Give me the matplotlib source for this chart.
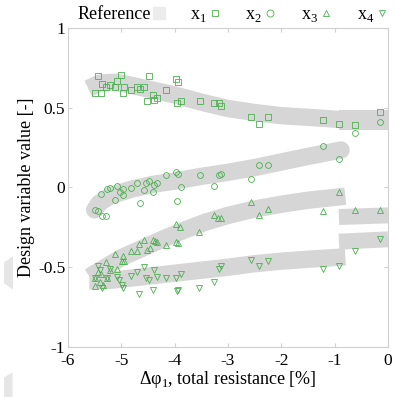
import numpy as np
import matplotlib
matplotlib.use('Agg')
import matplotlib.pyplot as plt
from matplotlib.lines import Line2D

plt.rcParams['font.family'] = ['Liberation Serif', 'DejaVu Serif']
plt.rcParams['mathtext.fontset'] = 'custom'
plt.rcParams['mathtext.rm'] = 'Liberation Serif'

# Reference bands (centre lines)
band1_x = [-5.62, -5.4, -5.1, -4.8, -4.4, -4.0, -3.5, -3.0, -2.5, -2.0, -1.5, -0.85]
band1_y = [0.62, 0.655, 0.66, 0.64, 0.61, 0.58, 0.535, 0.495, 0.47, 0.45, 0.44, 0.425]
band1b_x = [-0.92, 0.0]
band1b_y = [0.42, 0.42]

band2_x = [-5.5, -5.42, -5.2, -4.8, -4.4, -4.0, -3.5, -3.0, -2.5, -2.0, -1.5, -0.88]
band2_y = [-0.14, -0.1, -0.05, -0.01, 0.02, 0.04, 0.07, 0.095, 0.125, 0.16, 0.195, 0.235]

band3_x = [-5.6, -5.3, -5.0, -4.6, -4.2, -3.8, -3.4, -3.0, -2.5, -2.0, -1.5, -0.8]
band3_y = [-0.56, -0.5, -0.44, -0.38, -0.32, -0.265, -0.215, -0.175, -0.135, -0.105, -0.08, -0.055]
band3b_x = [-0.92, 0.0]
band3b_y = [-0.185, -0.175]

band4_x = [-5.6, -5.3, -5.0, -4.6, -4.2, -3.8, -3.4, -3.0, -2.5, -2.0, -1.5, -0.8]
band4_y = [-0.585, -0.585, -0.575, -0.56, -0.545, -0.53, -0.515, -0.5, -0.478, -0.462, -0.45, -0.435]
band4b_x = [-0.92, 0.0]
band4b_y = [-0.34, -0.325]

# faint leftovers outside the axes
ghost1_x = [-7.2, -7.03, -7.03, -7.2]
ghost1_y = [-0.47, -0.43, -0.64, -0.6]
ghost2_x = [-7.2, -7.04, -7.04, -7.2]
ghost2_y = [-1.19, -1.16, -1.32, -1.32]

# Design points
x1_x = [-5.43, -5.37, -5.49, -5.39, -5.29, -5.21, -5.12, -5.09, -5.01, -4.95, -4.96, -4.82, -4.71,
        -4.65, -4.58, -4.48, -4.52, -4.41, -4.38, -4.34, -4.16, -3.98, -3.93, -3.96, -3.89, -3.52,
        -3.26, -3.17, -3.13, -2.56, -2.42, -2.25, -1.22, -0.92, -0.61, -0.15]
x1_y = [0.70, 0.65, 0.59, 0.59, 0.63, 0.64, 0.63, 0.67, 0.705, 0.63, 0.59, 0.61, 0.63,
        0.62, 0.63, 0.70, 0.54, 0.58, 0.55, 0.56, 0.61, 0.68, 0.66, 0.53, 0.54, 0.54,
        0.53, 0.53, 0.51, 0.44, 0.40, 0.44, 0.42, 0.40, 0.39, 0.475]

x2_x = [-3.98, -3.93, -4.16, -4.48, -4.54, -4.38, -4.34, -4.41, -4.71, -4.82, -4.58, -4.65, -4.96,
        -5.03, -4.96, -5.09, -5.21, -5.27, -5.39, -5.12, -5.49, -5.43, -5.37, -5.29, -3.96, -3.89,
        -3.52, -3.26, -3.17, -3.13, -2.42, -2.25, -2.56, -1.22, -0.92, -0.61, -0.15]
x2_y = [0.10, 0.083, 0.08, 0.043, 0.03, 0.016, 0.026, -0.03, 0.026, -0.005, -0.015, -0.095, -0.01,
        -0.03, -0.05, 0.01, -0.005, -0.01, -0.04, -0.08, -0.14, -0.15, -0.18, -0.18, -0.085, 0.005,
        0.076, 0.01, 0.078, 0.085, 0.14, 0.143, 0.055, 0.26, 0.18, 0.34, 0.41]

x3_x = [-3.26, -3.18, -3.13, -3.98, -3.90, -3.54, -4.41, -4.37, -4.33, -4.58, -4.66, -4.46, -4.52,
        -4.16, -3.98, -3.93, -4.71, -4.82, -5.12, -4.97, -4.99, -4.95, -5.29, -5.09, -5.21, -5.43,
        -5.38, -5.49, -5.40, -5.27, -5.49, -5.34, -2.56, -2.42, -2.25, -1.22, -0.92, -0.61, -0.15]
x3_y = [-0.17, -0.19, -0.19, -0.23, -0.245, -0.28, -0.33, -0.335, -0.34, -0.33, -0.355, -0.38, -0.39,
        -0.36, -0.34, -0.35, -0.40, -0.40, -0.42, -0.43, -0.46, -0.46, -0.47, -0.51, -0.52, -0.53,
        -0.54, -0.57, -0.59, -0.57, -0.615, -0.61, -0.09, -0.17, -0.135, -0.15, -0.026, -0.14, -0.14]

x4_x = [-3.13, -3.17, -3.26, -3.89, -3.98, -3.54, -3.93, -3.96, -4.16, -4.39, -4.34, -4.41, -4.58,
        -4.71, -4.54, -4.49, -4.82, -4.66, -5.09, -5.04, -4.99, -4.96, -5.21, -5.27, -5.43, -5.40,
        -5.49, -5.37, -2.56, -2.42, -2.25, -1.22, -0.92, -0.61, -0.15]
x4_y = [-0.49, -0.51, -0.59, -0.54, -0.57, -0.63, -0.64, -0.65, -0.57, -0.52, -0.56, -0.64, -0.50,
        -0.53, -0.57, -0.58, -0.555, -0.67, -0.56, -0.58, -0.61, -0.63, -0.51, -0.57, -0.49, -0.52,
        -0.57, -0.63, -0.455, -0.495, -0.46, -0.51, -0.49, -0.40, -0.32]

band_col = '#d6d6d6'
green = '#4caf50'

fig = plt.figure(figsize=(3.94, 3.97), dpi=100)
ax = fig.add_axes([0.1726, 0.126, 0.8122, 0.8035])

lw = 12.5
ax.plot(band1_x, band1_y, color=band_col, lw=lw, solid_capstyle='butt', solid_joinstyle='round', zorder=1)
ax.plot(band1b_x, band1b_y, color=band_col, lw=lw + 2, solid_capstyle='butt', zorder=1)
ax.plot(band2_x, band2_y, color=band_col, lw=lw, solid_capstyle='round', solid_joinstyle='round', zorder=1)
ax.plot(band3_x, band3_y, color=band_col, lw=lw, solid_capstyle='butt', solid_joinstyle='round', zorder=1)
ax.plot(band3b_x, band3b_y, color=band_col, lw=lw - 1, solid_capstyle='butt', zorder=1)
ax.plot(band4_x, band4_y, color=band_col, lw=lw, solid_capstyle='butt', solid_joinstyle='round', zorder=1)
ax.plot(band4b_x, band4b_y, color=band_col, lw=lw - 1, solid_capstyle='butt', zorder=1)
ax.fill(ghost1_x, ghost1_y, color='#e6e6e6', lw=0, clip_on=False)
ax.fill(ghost2_x, ghost2_y, color='#e6e6e6', lw=0, clip_on=False)

mk = dict(ls='none', mfc='none', mec=green, ms=4.2, mew=0.6, zorder=3)
ax.plot(x1_x, x1_y, marker='s', **mk)
ax.plot(x2_x, x2_y, marker='o', **mk)
ax.plot(x3_x, x3_y, marker='^', **mk)
ax.plot(x4_x, x4_y, marker='v', **mk)

ax.set_xlim(-6, 0)
ax.set_ylim(-1, 1)
ax.set_xticks([-6, -5, -4, -3, -2, -1, 0])
ax.set_xticklabels(['-6', '-5', '-4', '-3', '-2', '-1', '0'])
ax.set_yticks([-1, -0.5, 0, 0.5, 1])
ax.set_yticklabels(['-1', '-0.5', '0', '0.5', '1'])
for s in ax.spines.values():
    s.set_color('#d0d0d0')
    s.set_linewidth(0.8)
ax.tick_params(direction='in', length=3, color='#d0d0d0', labelsize=12.5, top=True, right=True)
ax.tick_params(axis='x', pad=4)
ax.tick_params(axis='y', pad=2)
ax.set_xlabel('Δφ$_1$, total resistance [%]', fontsize=13, labelpad=0)
ax.set_ylabel('Design variable value [-]', fontsize=13, labelpad=2)

handles = [
    Line2D([], [], ls='none', marker='s', ms=9, mfc='#ececec', mec='#ececec'),
    Line2D([], [], ls='none', marker='s', mfc='none', mec=green, ms=5, mew=0.6),
    Line2D([], [], ls='none', marker='o', mfc='none', mec=green, ms=5, mew=0.6),
    Line2D([], [], ls='none', marker='^', mfc='none', mec=green, ms=5, mew=0.6),
    Line2D([], [], ls='none', marker='v', mfc='none', mec=green, ms=5, mew=0.6),
]
labels = ['Reference', 'x$_1$', 'x$_2$', 'x$_3$', 'x$_4$']
fig.legend(handles, labels, loc='center', bbox_to_anchor=(0.59, 0.962), ncol=5, frameon=False,
           markerfirst=False, fontsize=13, handlelength=0.6, handletextpad=0.15, columnspacing=1.4,
           borderaxespad=0)

fig.savefig('out.png', dpi=100)
